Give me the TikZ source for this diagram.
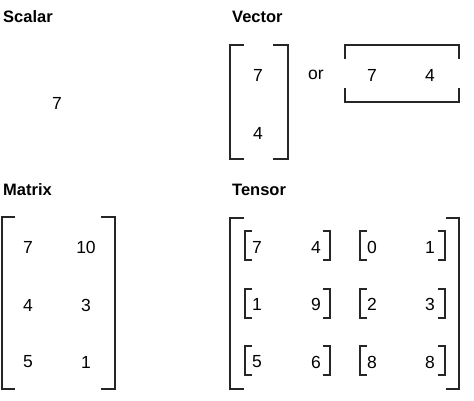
\documentclass[tikz,border=0pt]{standalone}
\usepackage{fontspec}
\setmainfont{Liberation Sans}
\begin{document}
\begin{tikzpicture}[x=1pt,y=-1pt,
        heading/.style={anchor=base west,inner sep=0pt,font=\fontsize{16.5}{20}\selectfont\bfseries},
        entry/.style={inner sep=0pt,font=\fontsize{17.5}{21}\selectfont},
        bracket/.style={line width=1.5pt,black!85}]
    \useasboundingbox (0,0) rectangle (474,401);

    % Headings
    \node[heading] (hscalar) at (3,23) {Scalar};
    \node[heading] (hvector) at (232,23) {Vector};
    \node[heading] (hmatrix) at (3,196) {Matrix};
    \node[heading] (htensor) at (232,195) {Tensor};

    % Scalar
    \node[entry] (s) at (57,103) {7};

    % Column vector
    \node[entry] (c1) at (258,75) {7};
    \node[entry] (c2) at (258,133) {4};
    \draw[bracket] (244,45) -- (230,45) -- (230,159) -- (244,159);
    \draw[bracket] (273,45) -- (288,45) -- (288,159) -- (273,159);

    \node[entry] (or) at (316,75) {or};

    % Row vector
    \node[entry] (r1) at (372,75) {7};
    \node[entry] (r2) at (430,75) {4};
    \draw[bracket] (345,59) -- (345,45) -- (459,45) -- (459,59);
    \draw[bracket] (345,88) -- (345,102) -- (459,102) -- (459,88);

    % Matrix
    \node[entry] (m11) at (28,247) {7};
    \node[entry] (m12) at (86,247) {10};
    \node[entry] (m21) at (28,305) {4};
    \node[entry] (m22) at (86,305) {3};
    \node[entry] (m31) at (28,362) {5};
    \node[entry] (m32) at (86,362) {1};
    \draw[bracket] (15,217) -- (2,217) -- (2,389) -- (15,389);
    \draw[bracket] (101,217) -- (115,217) -- (115,389) -- (101,389);

    % Tensor entries
    \node[entry] (t11) at (257,247) {7};
    \node[entry] (t12) at (316,247) {4};
    \node[entry] (t13) at (372,247) {0};
    \node[entry] (t14) at (430,247) {1};
    \node[entry] (t21) at (257,304) {1};
    \node[entry] (t22) at (316,304) {9};
    \node[entry] (t23) at (372,304) {2};
    \node[entry] (t24) at (430,304) {3};
    \node[entry] (t31) at (257,362) {5};
    \node[entry] (t32) at (316,362) {6};
    \node[entry] (t33) at (372,362) {8};
    \node[entry] (t34) at (430,362) {8};

    % Tensor outer brackets
    \draw[bracket] (244,218) -- (230,218) -- (230,389) -- (244,389);
    \draw[bracket] (446,218) -- (459,218) -- (459,389) -- (446,389);

    % Tensor inner brackets, row 1
    \draw[bracket] (252,231) -- (245,231) -- (245,260) -- (252,260);
    \draw[bracket] (323,231) -- (330,231) -- (330,260) -- (323,260);
    \draw[bracket] (367,231) -- (360,231) -- (360,260) -- (367,260);
    \draw[bracket] (438,231) -- (445,231) -- (445,260) -- (438,260);

    % Tensor inner brackets, row 2
    \draw[bracket] (252,289) -- (245,289) -- (245,318) -- (252,318);
    \draw[bracket] (323,289) -- (330,289) -- (330,318) -- (323,318);
    \draw[bracket] (367,289) -- (360,289) -- (360,318) -- (367,318);
    \draw[bracket] (438,289) -- (445,289) -- (445,318) -- (438,318);

    % Tensor inner brackets, row 3
    \draw[bracket] (252,346) -- (245,346) -- (245,375) -- (252,375);
    \draw[bracket] (323,346) -- (330,346) -- (330,375) -- (323,375);
    \draw[bracket] (367,346) -- (360,346) -- (360,375) -- (367,375);
    \draw[bracket] (438,346) -- (445,346) -- (445,375) -- (438,375);

\end{tikzpicture}
\end{document}
